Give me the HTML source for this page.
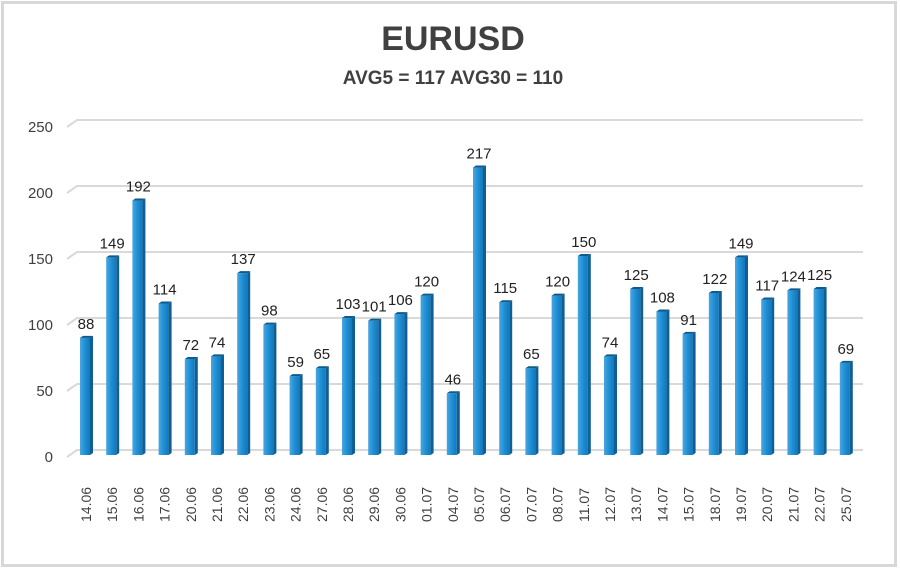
<!DOCTYPE html>
<html><head><style>
body{margin:0;background:#fff}
svg{display:block}
text{font-family:"Liberation Sans",sans-serif}
</style></head><body>
<svg width="900" height="570" viewBox="0 0 900 570" xmlns="http://www.w3.org/2000/svg">
<defs>
<linearGradient id="g" x1="0" x2="1" y1="0" y2="0">
<stop offset="0" stop-color="#4aa6e0"/><stop offset="0.5" stop-color="#1e90d6"/><stop offset="1" stop-color="#1676b8"/>
</linearGradient>
</defs>
<rect x="0" y="0" width="900" height="570" fill="#fff"/>
<rect x="2.5" y="2.5" width="893" height="563" fill="none" stroke="#d8d8d8" stroke-width="3"/>
<text x="453" y="50" text-anchor="middle" font-size="34" font-weight="bold" fill="#404040">EURUSD</text>
<text x="453" y="84" text-anchor="middle" font-size="19" font-weight="bold" fill="#404040">AVG5 = 117 AVG30 = 110</text>
<g id="grid" stroke="#d9d9d9" stroke-width="2" fill="none"></g>
<g id="ylab" font-size="15" fill="#404040" text-anchor="end"></g>
<g id="bars"></g>
<g id="vals" font-size="15" fill="#222" text-anchor="middle"></g>
<g id="xlab" font-size="14" fill="#404040"></g>
</svg>
<script>
(function(){
var ns="http://www.w3.org/2000/svg";
function el(p,t,a,txt){var e=document.createElementNS(ns,t);for(var k in a)e.setAttribute(k,a[k]);if(txt!=null)e.textContent=txt;document.getElementById(p).appendChild(e);}
for(var i=0;i<=5;i++){var y=450-i*66;
el("grid","path",{d:"M67 "+(y+7)+" L77 "+y+" L863 "+y});
el("ylab","text",{x:53,y:y+12},String(i*50));}
var v=[88,149,192,114,72,74,137,98,59,65,103,101,106,120,46,217,115,65,120,150,74,125,108,91,122,149,117,124,125,69];
var d=["14.06","15.06","16.06","17.06","20.06","21.06","22.06","23.06","24.06","27.06","28.06","29.06","30.06","01.07","04.07","05.07","06.07","07.07","08.07","11.07","12.07","13.07","14.07","15.07","18.07","19.07","20.07","21.07","22.07","25.07"];
for(var i=0;i<30;i++){var cx=86+i*26.2,ty=454-v[i]*1.32,bx=cx-6;
el("bars","rect",{x:bx,y:ty,width:10,height:455-ty,fill:"url(#g)"});
el("bars","path",{d:"M"+(bx+10)+" "+ty+" l3 -2 v"+(455-ty)+" l-3 2z",fill:"#0f5f95"});
el("bars","path",{d:"M"+bx+" "+ty+" l3 -2 h10 l-3 2z",fill:"#0d5a8c"});
el("vals","text",{x:cx,y:ty-9},String(v[i]));
el("xlab","text",{x:0,y:0,transform:"translate("+(cx+5)+",522) rotate(-90)"},d[i]);}
})();
</script>
</body></html>
